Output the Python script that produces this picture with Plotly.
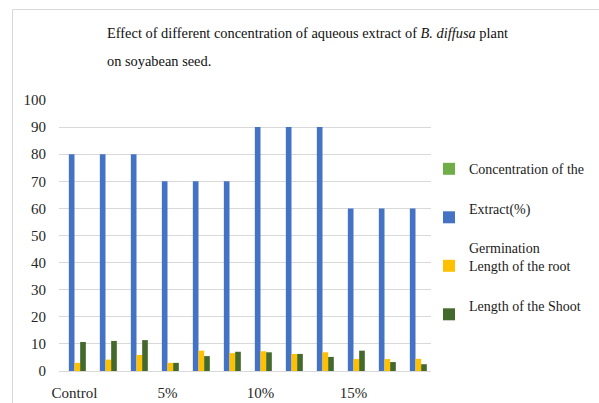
import plotly.graph_objects as go

# ---- data ----
concentrations = ["Control", "5%", "10%", "15%"]
replicates = 3
concentration_values = [None] * 12  # series shown in legend only (no bars)
germination = [80, 80, 80, 70, 70, 70, 90, 90, 90, 60, 60, 60]
root_length = [3, 4.2, 5.9, 3, 7.5, 6.6, 7.3, 6.3, 6.9, 4.4, 4.4, 4.5]
shoot_length = [10.7, 11.1, 11.4, 3, 5.5, 7.1, 6.9, 6.3, 5.2, 7.5, 3.3, 2.5]

x_pos = list(range(len(germination)))
tick_vals = [i * replicates for i in range(len(concentrations))]

series_names = [
    "\u00a0<br>Concentration of the<br>\u00a0",
    "Extract(%)<br>\u00a0",
    "Germination<br>Length of the root<br>\u00a0",
    "Length of the Shoot<br>\u00a0",
]
colors = ["#70AD47", "#4472C4", "#FFC000", "#44692C"]
values = [concentration_values, germination, root_length, shoot_length]

W, H = 599, 403
ML, MR, MT, MB = 59, 168, 100, 32
PW, PH = W - ML - MR, H - MT - MB


def px_x(p):
    return (p - ML) / PW


def px_y(p):
    return (H - MB - p) / PH


FONT = "Liberation Serif, Times New Roman, serif"

fig = go.Figure()
for name, col, vals in zip(series_names, colors, values):
    fig.add_trace(go.Bar(x=x_pos, y=vals, name=name, marker=dict(color=col, line=dict(width=0))))

fig.update_layout(
    width=W, height=H,
    margin=dict(l=ML, r=MR, t=MT, b=MB, autoexpand=False),
    paper_bgcolor="white", plot_bgcolor="white",
    barmode="group", bargap=0.27, bargroupgap=0,
    font=dict(family=FONT, size=15, color="#262626"),
    showlegend=True,
    legend=dict(
        x=px_x(429), y=px_y(135), xanchor="left", yanchor="top",
        font=dict(family=FONT, size=14, color="#1a1a1a"),
        valign="middle", traceorder="normal",
        bgcolor="rgba(0,0,0,0)",
    ),
    xaxis=dict(
        range=[-0.5, len(x_pos) - 0.5],
        tickvals=tick_vals, ticktext=concentrations,
        showgrid=False, zeroline=False, showline=False, ticks="",
        ticklabelstandoff=11, automargin=False,
        tickfont=dict(family=FONT, size=15, color="#262626"),
    ),
    yaxis=dict(
        range=[0, 100], dtick=10,
        showgrid=True, gridcolor="#D9D9D9", gridwidth=1,
        zeroline=True, zerolinecolor="#D9D9D9", zerolinewidth=1,
        showline=False, ticks="",
        ticklabelstandoff=12, automargin=False,
        tickfont=dict(family=FONT, size=15, color="#262626"),
    ),
    annotations=[
        dict(text="Effect of different concentration of aqueous extract of <i>B. diffusa</i> plant",
             xref="paper", yref="paper", x=px_x(105), y=px_y(33),
             xanchor="left", yanchor="middle", showarrow=False,
             font=dict(family=FONT, size=14.4, color="#111111")),
        dict(text="on soyabean seed.",
             xref="paper", yref="paper", x=px_x(105), y=px_y(61),
             xanchor="left", yanchor="middle", showarrow=False,
             font=dict(family=FONT, size=14.4, color="#111111")),
    ],
    shapes=[
        dict(type="rect", xref="paper", yref="paper",
             x0=px_x(12.5), y0=px_y(H + 5), x1=px_x(W + 5), y1=px_y(9.5),
             line=dict(color="#D9D9D9", width=1), fillcolor="rgba(0,0,0,0)", layer="below"),
    ],
)

fig.write_html("out.html")
